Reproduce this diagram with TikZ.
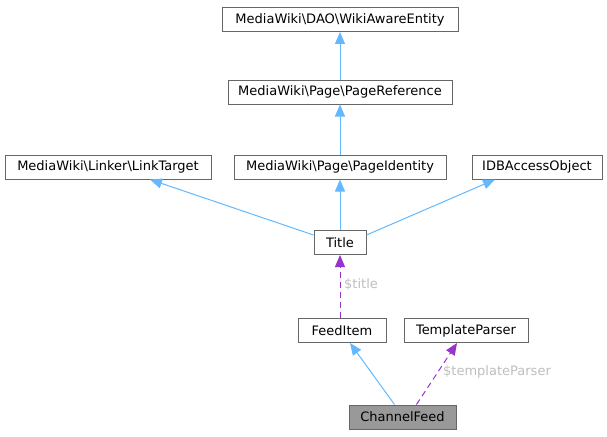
\documentclass[tikz,border=0pt]{standalone}
\usepackage{fontspec}
\setmainfont{DejaVu Sans}
\usetikzlibrary{arrows.meta}
\definecolor{edgeblue}{HTML}{63B8FF}
\definecolor{edgepurple}{HTML}{9A32CD}
\definecolor{boxline}{HTML}{666666}
\definecolor{cfill}{HTML}{999999}
\definecolor{lblgrey}{HTML}{BEBEBE}
\tikzset{
  cls/.style={draw=boxline, line width=1pt, fill=white, rectangle, inner sep=0pt, minimum height=24pt, font=\fontsize{13}{15}\selectfont},
  inh/.style={draw=edgeblue, line width=1pt, -{Triangle[length=12pt,width=10pt]}},
  use/.style={draw=edgepurple, line width=1pt, dash pattern=on 6pt off 4pt, -{Triangle[length=12pt,width=10pt]}},
  lbl/.style={text=lblgrey, font=\fontsize{13}{15}\selectfont, anchor=west, inner sep=0pt}
}
\begin{document}
\begin{tikzpicture}[x=1pt,y=-1pt]
\useasboundingbox (0,0) rectangle (607,436);
\node[cls, minimum width=236pt] (wae) at (340,19.5) {MediaWiki\textbackslash DAO\textbackslash WikiAwareEntity};
\node[cls, minimum width=224pt] (pr) at (340,92) {MediaWiki\textbackslash Page\textbackslash PageReference};
\node[cls, minimum width=206pt] (lt) at (108,167) {MediaWiki\textbackslash Linker\textbackslash LinkTarget};
\node[cls, minimum width=212pt] (pi) at (340,167) {MediaWiki\textbackslash Page\textbackslash PageIdentity};
\node[cls, minimum width=130pt] (idb) at (537,167) {IDBAccessObject};
\node[cls, minimum width=52pt] (title) at (340,242.5) {Title};
\node[cls, minimum width=88pt] (fi) at (342,330.5) {FeedItem};
\node[cls, minimum width=124pt] (tp) at (466,330.5) {TemplateParser};
\node[cls, minimum width=107pt, fill=cfill] (cf) at (402.5,417) {ChannelFeed};

\draw[inh] (pr) -- (wae);
\draw[inh] (pi) -- (pr);
\draw[inh] ([yshift=-5pt]title.north west) -- ([xshift=42pt]lt.south);
\draw[inh] (title) -- (pi);
\draw[inh] ([yshift=-5pt]title.north east) -- ([xshift=-42pt]idb.south);
\draw[use] (title.south |- fi.north) -- (title.south);
\draw[inh] ([xshift=-8pt]cf.north) -- ([xshift=8pt]fi.south);
\draw[use] ([xshift=14pt]cf.north) -- ([xshift=-9pt]tp.south);

\node[lbl] (l1) at (344,285) {\$title};
\node[lbl] (l2) at (443,372) {\$templateParser};
\end{tikzpicture}
\end{document}
